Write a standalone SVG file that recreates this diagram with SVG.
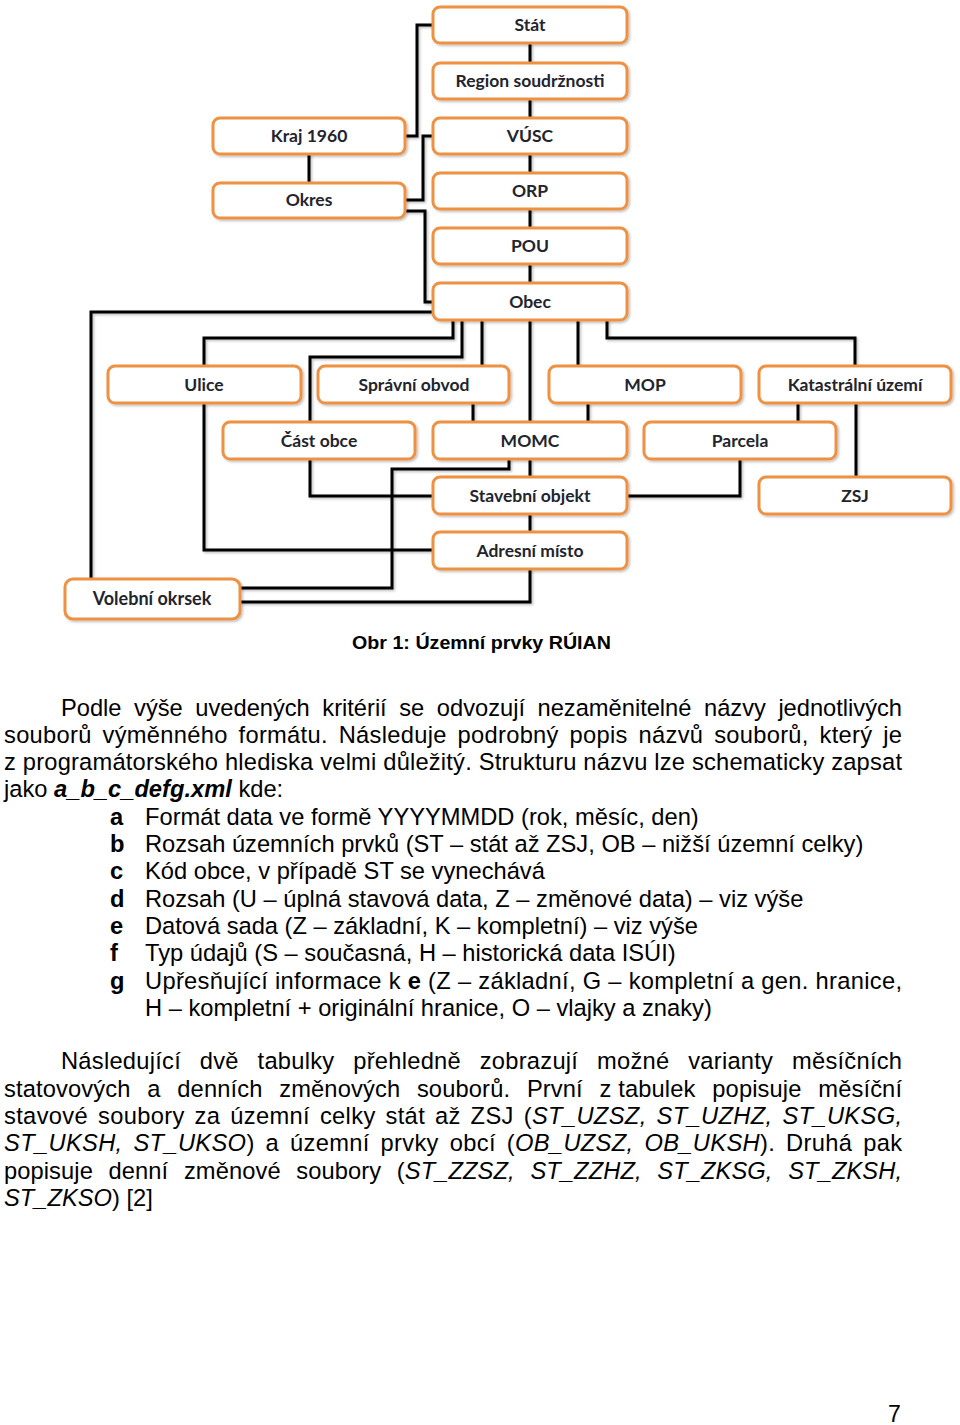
<svg xmlns="http://www.w3.org/2000/svg" width="960" height="1425" viewBox="0 0 960 1425">
<defs>
<filter id="sh" x="-10%" y="-20%" width="130%" height="160%">
<feDropShadow dx="1.5" dy="1.5" stdDeviation="1" flood-color="#000" flood-opacity="0.25"/>
</filter>
<style>
.box{fill:#fff;stroke:#EE9142;stroke-width:3;filter:url(#sh)}
.lbl{font-family:Lato,"Liberation Sans",sans-serif;font-weight:bold;font-size:17.5px;fill:#22242e;text-anchor:middle}
.con path{fill:none;stroke:#000;stroke-width:3;stroke-linejoin:miter}
.t{font-family:"Liberation Sans",Arial,sans-serif;font-size:23.7px;fill:#000}
.b{font-weight:bold}
.i{font-style:italic}
</style>
</defs>
<rect width="960" height="1425" fill="#fff"/>
<g class="con" filter="url(#sh)">
<path d="M433,25 H417 V136 H405"/>
<path d="M530,43 V63"/>
<path d="M530,99 V118"/>
<path d="M530,154 V173"/>
<path d="M530,209 V228"/>
<path d="M530,264 V283"/>
<path d="M309,154 V183"/>
<path d="M405,200 H423 V136 H433"/>
<path d="M405,211 H425 V302 H433"/>
<path d="M433,312 H91 V579"/>
<path d="M453,320 V338 H204 V366"/>
<path d="M462,320 V357 H310 V422"/>
<path d="M482,320 V366"/>
<path d="M530,320 V422"/>
<path d="M578,320 V366"/>
<path d="M607,320 V338 H855 V366"/>
<path d="M473,403 V422"/>
<path d="M588,403 V422"/>
<path d="M798,403 V422"/>
<path d="M856,403 V477"/>
<path d="M509,459 V469 H392 V588 H240"/>
<path d="M310,459 V496 H433"/>
<path d="M530,459 V477"/>
<path d="M740,459 V496 H627"/>
<path d="M530,514 V532"/>
<path d="M204,403 V550 H433"/>
<path d="M530,569 V602 H240"/>
</g>
<g id="stat"><rect class="box" x="433" y="7" width="194" height="36" rx="7"/><text class="lbl" x="530" y="31">Stát</text></g>
<g id="region"><rect class="box" x="433" y="63" width="194" height="36" rx="7"/><text class="lbl" x="530" y="87">Region soudržnosti</text></g>
<g id="vusc"><rect class="box" x="433" y="118" width="194" height="36" rx="7"/><text class="lbl" x="530" y="142">VÚSC</text></g>
<g id="orp"><rect class="box" x="433" y="173" width="194" height="36" rx="7"/><text class="lbl" x="530" y="197">ORP</text></g>
<g id="pou"><rect class="box" x="433" y="228" width="194" height="36" rx="7"/><text class="lbl" x="530" y="252">POU</text></g>
<g id="obec"><rect class="box" x="433" y="283" width="194" height="37" rx="7"/><text class="lbl" x="530" y="308">Obec</text></g>
<g id="kraj"><rect class="box" x="213" y="118" width="192" height="36" rx="7"/><text class="lbl" x="309" y="142">Kraj 1960</text></g>
<g id="okres"><rect class="box" x="213" y="183" width="192" height="35" rx="7"/><text class="lbl" x="309" y="206">Okres</text></g>
<g id="ulice"><rect class="box" x="108" y="366" width="193" height="37" rx="7"/><text class="lbl" x="204" y="391">Ulice</text></g>
<g id="spravni"><rect class="box" x="318" y="366" width="191" height="37" rx="7"/><text class="lbl" x="414" y="391">Správní obvod</text></g>
<g id="mop"><rect class="box" x="549" y="366" width="192" height="37" rx="7"/><text class="lbl" x="645" y="391">MOP</text></g>
<g id="katastr"><rect class="box" x="759" y="366" width="192" height="37" rx="7"/><text class="lbl" x="855" y="391">Katastrální území</text></g>
<g id="cast"><rect class="box" x="223" y="422" width="192" height="37" rx="7"/><text class="lbl" x="319" y="447">Část obce</text></g>
<g id="momc"><rect class="box" x="433" y="422" width="194" height="37" rx="7"/><text class="lbl" x="530" y="447">MOMC</text></g>
<g id="parcela"><rect class="box" x="644" y="422" width="192" height="37" rx="7"/><text class="lbl" x="740" y="447">Parcela</text></g>
<g id="stavebni"><rect class="box" x="433" y="477" width="194" height="37" rx="7"/><text class="lbl" x="530" y="502">Stavební objekt</text></g>
<g id="zsj"><rect class="box" x="759" y="477" width="192" height="37" rx="7"/><text class="lbl" x="855" y="502">ZSJ</text></g>
<g id="adresni"><rect class="box" x="433" y="532" width="194" height="37" rx="7"/><text class="lbl" x="530" y="557">Adresní místo</text></g>
<g id="volebni"><rect class="box" x="65" y="579" width="175" height="40" rx="8"/><text class="lbl" x="152" y="605" style="font-size:18px">Volební okrsek</text></g>
<g id="text">
<text class="t b" x="481.5" y="649" text-anchor="middle" style="font-size:18px" textLength="259" lengthAdjust="spacingAndGlyphs">Obr 1: Územní prvky RÚIAN</text>
<text class="t" x="61" y="716" style="word-spacing:6px" textLength="841" lengthAdjust="spacing">Podle výše uvedených kritérií se odvozují nezaměnitelné názvy jednotlivých</text>
<text class="t" x="4" y="743" style="word-spacing:4px" textLength="898" lengthAdjust="spacing">souborů výměnného formátu. Následuje podrobný popis názvů souborů, který je</text>
<text class="t" x="4" y="770" textLength="898" lengthAdjust="spacing">z programátorského hlediska velmi důležitý. Strukturu názvu lze schematicky zapsat</text>
<text class="t" x="4" y="797">jako <tspan class="b i">a_b_c_defg.xml</tspan> kde:</text>
<text class="t b" x="110" y="825">a</text><text class="t" x="145" y="825">Formát data ve formě YYYYMMDD (rok, měsíc, den)</text>
<text class="t b" x="110" y="852">b</text><text class="t" x="145" y="852">Rozsah územních prvků (ST – stát až ZSJ, OB – nižší územní celky)</text>
<text class="t b" x="110" y="879">c</text><text class="t" x="145" y="879">Kód obce, v případě ST se vynechává</text>
<text class="t b" x="110" y="907">d</text><text class="t" x="145" y="907">Rozsah (U – úplná stavová data, Z – změnové data) – viz výše</text>
<text class="t b" x="110" y="934">e</text><text class="t" x="145" y="934">Datová sada (Z – základní, K – kompletní) – viz výše</text>
<text class="t b" x="110" y="961">f</text><text class="t" x="145" y="961">Typ údajů (S – současná, H – historická data ISÚI)</text>
<text class="t b" x="110" y="989">g</text><text class="t" x="145" y="989" textLength="757" lengthAdjust="spacing">Upřesňující informace k <tspan class="b">e</tspan> (Z – základní, G – kompletní a gen. hranice,</text>
<text class="t" x="145" y="1016">H – kompletní + originální hranice, O – vlajky a znaky)</text>
<text class="t" x="61" y="1069" style="word-spacing:12px" textLength="841" lengthAdjust="spacing">Následující dvě tabulky přehledně zobrazují možné varianty měsíčních</text>
<text class="t" x="4" y="1097" style="word-spacing:10px" textLength="898" lengthAdjust="spacing">statovových a denních změnových souborů. První z<tspan style="word-spacing:0">&#160;</tspan>tabulek popisuje měsíční</text>
<text class="t" x="4" y="1124" style="word-spacing:3px" textLength="898" lengthAdjust="spacing">stavové soubory za územní celky stát až ZSJ (<tspan class="i">ST_UZSZ, ST_UZHZ, ST_UKSG,</tspan></text>
<text class="t" x="4" y="1151" style="word-spacing:4px" textLength="898" lengthAdjust="spacing"><tspan class="i">ST_UKSH, ST_UKSO</tspan>) a územní prvky obcí (<tspan class="i">OB_UZSZ, OB_UKSH</tspan>). Druhá pak</text>
<text class="t" x="4" y="1179" style="word-spacing:9px" textLength="898" lengthAdjust="spacing">popisuje denní změnové soubory (<tspan class="i">ST_ZZSZ, ST_ZZHZ, ST_ZKSG, ST_ZKSH,</tspan></text>
<text class="t" x="4" y="1206"><tspan class="i">ST_ZKSO</tspan>) [2]</text>
<text class="t" x="888" y="1422" style="font-size:23px">7</text>
</g>
</svg>
